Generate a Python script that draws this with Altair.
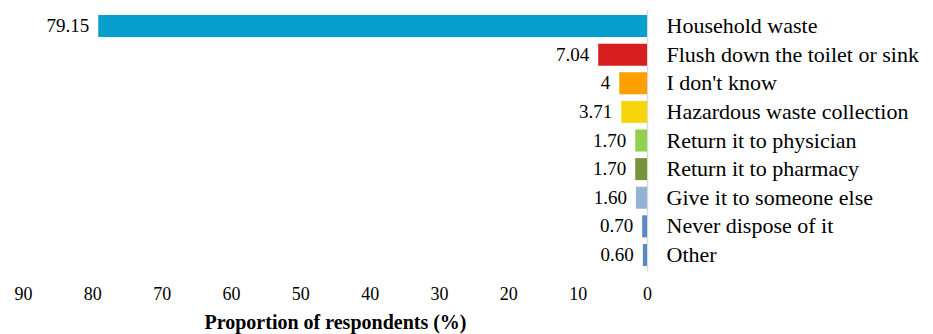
import altair as alt
import pandas as pd

categories = ["Household waste", "Flush down the toilet or sink", "I don't know",
              "Hazardous waste collection", "Return it to physician", "Return it to pharmacy",
              "Give it to someone else", "Never dispose of it", "Other"]
values = [79.15, 7.04, 4, 3.71, 1.70, 1.70, 1.60, 0.70, 0.60]
value_labels = ["79.15", "7.04", "4", "3.71", "1.70", "1.70", "1.60", "0.70", "0.60"]
colors = ["#069fce", "#d71f1f", "#ff9f00", "#f6d60a", "#92d050", "#77933c",
          "#95b3d7", "#5a8ac6", "#5a8ac6"]
tick_values = [0, 10, 20, 30, 40, 50, 60, 70, 80, 90]

df = pd.DataFrame({"cat": categories, "val": values, "lab": value_labels, "col": colors})

FONT = "Times New Roman"

x = alt.X("val:Q",
          scale=alt.Scale(domain=[0, 90], reverse=True, nice=False),
          axis=alt.Axis(values=tick_values, grid=False, domain=False, ticks=False,
                        labelFont=FONT, labelFontSize=18, labelColor="#000000",
                        labelPadding=14, format="d", labelFlush=False,
                        title="Proportion of respondents (%)", titleFont=FONT,
                        titleFontSize=20, titleFontWeight="bold", titleColor="#000000",
                        titlePadding=9))
y = alt.Y("cat:N", sort=None,
          scale=alt.Scale(paddingInner=0.23, paddingOuter=0.175),
          axis=alt.Axis(orient="right", title=None, ticks=False, domain=True,
                        domainColor="#d9d9d9", domainWidth=1.5,
                        labelFont=FONT, labelFontSize=22, labelColor="#000000",
                        labelPadding=19, labelAlign="left", labelLimit=400))

bars = alt.Chart(df).mark_bar().encode(
    x=x, y=y, color=alt.Color("col:N", scale=None)
)

texts = alt.Chart(df).mark_text(align="right", baseline="middle", dx=-9,
                                font=FONT, fontSize=19, color="#000000").encode(
    x=alt.X("val:Q"), y=alt.Y("cat:N", sort=None), text="lab:N"
)

chart = alt.layer(bars, texts).properties(
    width=624, height=261,
    autosize=alt.AutoSizeParams(type="none"),
    padding={"left": 23, "top": 10, "right": 286, "bottom": 63},
    background="#ffffff"
).configure_view(stroke=None)

chart.save("out.html", embed_options={"renderer": "svg", "actions": False})
